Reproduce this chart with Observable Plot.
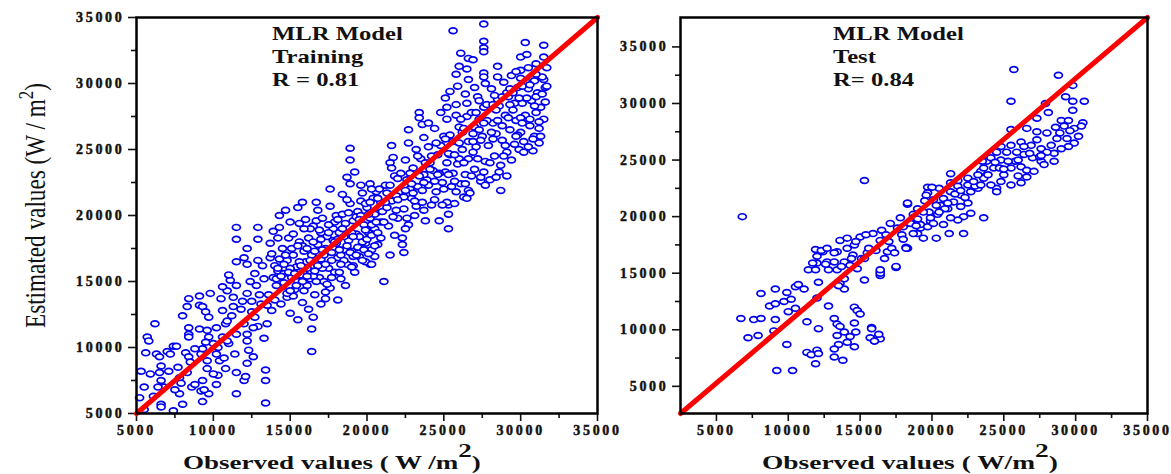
<!DOCTYPE html>
<html><head><meta charset="utf-8">
<script src="https://cdn.jsdelivr.net/npm/d3@7"></script>
<script src="https://cdn.jsdelivr.net/npm/@observablehq/plot@0.6"></script>
<style>
body{margin:0;background:#fff;}
#wrap{position:relative;width:1171px;height:474px;overflow:hidden;background:#fff;}
#wrap svg{position:absolute;top:0;overflow:hidden;}
#wrap svg.leftpanel{overflow:visible;}
#wrap g[aria-label="x-axis tick label"], #wrap g[aria-label="y-axis tick label"]{letter-spacing:2.7px;stroke:#111;stroke-width:0.45px;}
</style></head><body><div id="wrap"></div>
<script>
// ---- data (Observed, Estimated) in W/m2 ----
const trainingPoints = [
[5300,8200],[5500,7000],[5700,10800],[5800,10500],[5600,9600],[5500,5300],[5200,6200],[5900,8000],[6200,11800],[6300,9500],[6500,9300],[6600,8600],[6500,8100],[6600,7500],[6600,5700],[6600,5500],[6100,6300],[6800,7000],[7000,9700],[7400,10100],[7600,10100],[7200,9500],[7400,5200],[7700,8500],[7800,7700],[7800,6500],[8000,5700],[7500,6800],[7900,7300],[8200,9600],[8400,9300],[8500,8900],[8300,8100],[8600,7000],[8800,7200],[9200,6700],[9300,5900],[9300,7500],[9200,9500],[9300,9900],[9600,9000],[9600,8400],[8400,11500],[8400,11000],[8400,10800],[8000,12400],[8300,13100],[8400,13700],[9100,13900],[9100,13200],[9300,13100],[9500,12700],[9800,14100],[9700,12300],[9100,11400],[9600,11300],[9700,10800],[10200,11500],[10300,10000],[10200,9500],[10400,9000],[10600,10800],[10800,11800],[10900,12000],[10500,13700],[10600,12800],[10900,14300],[11100,15100],[11000,15500],[10600,14600],[11500,14700],[11500,16500],[11500,18200],[11500,19100],[12200,17500],[12200,16300],[12000,16800],[12900,19100],[12900,18200],[12900,16600],[11500,11000],[11300,13100],[11200,12400],[11300,13800],[12200,14100],[12000,11800],[12200,11000],[12200,10500],[12300,9800],[12200,8800],[12000,7500],[11500,8100],[11500,6500],[12100,7800],[12700,12300],[12900,11600],[13300,10700],[13400,8300],[13400,7500],[13400,5800],[12600,9300],[10800,8400],[10300,7900],[10200,7200],[9700,6500],[9400,6800],[10000,8000],[10700,9200],[11000,10300],[11400,9500],[11800,12900],[12500,13500],[12800,14700],[13100,13300],[13300,15200],[13600,14000],[13800,12800],[13500,11800],[12700,15600],[12400,15000],[13200,16200],[13700,16800],[13900,15300],[14000,13600],
[13800,17100],[14000,16200],[13700,17900],[14300,20000],[14700,20400],[14300,19100],[15600,19400],[16700,21000],[16800,20400],[16700,19600],[18400,21600],[18900,22400],[19600,22300],[20200,22400],[20600,21800],[14500,14600],[14800,13800],[15000,12600],[15500,12100],[16400,11400],[16400,9700],[16500,12300],[17300,13700],[18100,13600],[18600,14700],[19100,16200],[20200,16300],[19900,17900],[18000,20000],[17000,18700],[14200,15800],[14500,17500],[14800,16600],[14900,18300],[15100,15300],[15200,17000],[15300,14400],[15400,16100],[15600,18000],[15700,15500],[15800,13400],[15900,17300],[16000,16500],[16100,14700],[16200,18300],[16300,15800],[16400,17000],[16500,19200],[16600,14000],[16700,16400],[16800,17800],[16900,15300],[17000,16700],[17100,19800],[17200,15000],[17300,17500],[17400,18400],[17500,16000],[17600,14500],[17700,17200],[17800,19000],[17900,15700],[18000,17900],[18100,16800],[18200,18700],[18300,15200],[18400,20100],[18500,17400],[18600,19400],[18700,16300],[18800,18100],[18900,20900],[19000,17300],[19100,19600],[19200,15700],[19300,18600],[19400,20300],[19500,16900],[19600,21100],[19700,18000],[19800,19300],[19900,16500],[20000,20600],[20100,18700],[20200,19800],[20300,17400],[20400,21300],[20500,19000],[20600,20200],[20700,17800],[20800,22000],[20900,19500],[14100,14700],[14600,15600],[15000,19500],[15500,20600],[16000,19700],[14400,13300],[15200,13900],[16200,12900],[17000,13300],[13900,18800],[14200,18300],[15800,21000],[17600,20700],[18700,22900],[19200,23300],[18900,25100],[18900,24200],[17600,22000],[16100,16000],[16900,17100],[17800,18100],[15500,15000],[14800,14100],[16300,15200],[17100,16000],[18300,17000],[19500,18400],[20300,19300],
[14100,15200],[14300,16700],[14600,14900],[14700,17000],[15000,16000],[15200,18600],[15400,14700],[15600,16500],[15800,17700],[15900,14300],[16100,17500],[16300,19000],[16500,15400],[16600,17300],[16800,16200],[17000,18200],[17200,17000],[17300,14200],[17500,18700],[17700,16600],[17900,19500],[18100,18200],[18200,15700],[18400,19000],[18500,16600],[18700,17700],[18800,20200],[19000,18700],[19100,16900],[19300,19900],[19400,17600],[19600,20000],[19700,16600],[19900,20900],[20000,18200],[20200,21000],[20300,18500],[20500,20100],[20700,18700],[20900,21000],[12500,12700],[13000,14000],[13500,13200],[11900,13500],[12600,11500],[10900,10500],[10000,10300],[9500,10400],[8800,9900],[7100,8200],[6400,7000],
[14200,16000],[14400,15400],[14600,16300],[14900,15700],[15100,17500],[15300,15600],[15500,17700],[15700,16200],[15900,19000],[16100,15400],[16300,16600],[16500,18000],[16700,15000],[16900,18900],[17100,17400],[17300,16300],[17500,19300],[17700,15300],[17900,18000],[18100,19700],[18300,16300],[18500,18400],[18700,21200],[18900,17200],[19100,18400],[19300,17000],[19500,19700],[19700,21700],[19900,18900],[20100,20100],[20300,22000],[20500,17700],[20700,21300],[20900,18300],[15000,14300],[15800,15000],[16600,15800],[17400,14800],[18200,17400],[19000,16100],[19800,17400],[20600,19500],
[27600,34500],[25600,34000],[27600,33200],[27600,32700],[27600,32400],[30300,33100],[31500,32900],[26100,32300],[26600,31900],[26900,31800],[30000,32000],[30400,32200],[31500,32000],[28500,31300],[26000,31300],[26500,31100],[27600,30800],[27600,30500],[28500,30500],[30000,31000],[30500,31200],[31500,30300],[25800,30700],[26600,30300],[25900,29800],[27000,29700],[27700,30000],[26400,29200],[27200,29000],[28500,28800],[29100,29300],[25200,28200],[25800,28400],[26500,28500],[27600,28200],[25200,27300],[25800,27600],[23400,27800],[23400,27400],[23600,26900],[24000,27000],[22700,26500],[23700,25900],[21600,25300],[22700,25500],[21700,24400],[21500,24000],[29900,25000],[31200,25500],[30900,26000],[28700,21900],[26300,21400],[25300,19000],[25300,20100],[25300,20800],[26600,21900],[27400,22600],[22400,17200],[21100,15000],[21500,17000],[20300,16300],[20500,16900],[20100,17100],
[21000,20300],[21200,22300],[21400,19200],[21600,21100],[21800,23000],[22000,19800],[22100,21800],[22300,18300],[22400,20500],[22600,22700],[22700,19300],[22900,21300],[23000,23600],[23100,20000],[23300,22200],[23500,24300],[23600,21000],[23800,19600],[23900,22700],[24000,25200],[24200,20800],[24300,23400],[24500,21800],[24600,24600],[24700,19600],[24900,22500],[25000,26000],[25100,23300],[25200,21000],[25400,24600],[25500,22200],[25600,25600],[25700,20900],[25900,23900],[26000,26700],[26100,22400],[26200,25000],[26400,23100],[26500,27500],[26600,24300],[26700,21700],[26900,26200],[27000,23500],[27100,25200],[27300,27300],[27400,22900],[27500,26000],[27700,24100],[27800,28400],[27900,25300],[28000,22700],[28200,27000],[28300,24500],[28400,26200],[28600,28300],[28700,23800],[28800,25700],[29000,27600],[29100,24800],[29200,29000],[29300,26500],[29500,28000],[29600,25400],[29700,27200],[29800,29700],[30000,26300],[30100,28500],[30200,24800],[30300,27600],[30500,29600],[30600,26800],[30700,28700],[30800,25800],[30900,30200],[31000,27800],[31100,29300],[31200,26600],[31300,28200],[31400,30500],[31500,27300],[31600,29700],[31700,31200],[29400,30600],[28900,30100],[29700,30900],[30400,30100],[31000,31500],[28100,29600],[27300,28700],[26800,27800],[26000,25500],[25300,24700],[24700,23200],[23700,23100],[22800,22000],[22000,22800],[21300,21700],[24100,24000],[21800,18500],[22500,24200],[23200,25000],[24400,26600],[24800,27800],[25100,28900],[25400,29400],[22300,17800],
[21100,19500],[21300,20600],[21500,22300],[21700,19900],[21900,21500],[22200,23200],[22400,21400],[22600,19800],[22800,23200],[23000,21700],[23200,20700],[23400,23000],[23600,21900],[23800,24000],[24000,22300],[24200,24500],[24400,21200],[24600,23100],[24800,25300],[25000,22000],[25200,24000],[25400,26100],[25600,23200],[25800,21800],[26000,24300],[26200,26300],[26400,22400],[26600,25600],[26800,23000],[27000,26700],[27200,24300],[27400,25700],[27600,23300],[27800,27200],[28000,24000],[28200,25800],[28400,28000],[28600,23300],[28800,26800],[29000,25300],[29200,27400],[29400,24200],[29600,28500],[29800,26100],[30000,27400],[30200,25600],[30400,28900],[30600,27300],[30800,24900],[31000,29000],[31200,27100],[31400,29200],[31600,28600],[30100,29800],[29300,29600],[28300,29100],[27100,27800],[26300,26600],
[21200,21000],[21600,23600],[22000,21200],[22500,19000],[22900,22400],[23300,24500],[23700,20400],[24100,23500],[24500,25500],[24900,20800],[25300,23100],[25700,24600],[26100,27300],[26500,21300],[26900,24800],[27300,26500],[27700,22300],[28100,26300],[28500,27200],[28900,24500],[29300,28400],[29700,26000],[30100,27000],[30500,25200],[30900,28300],[31300,26000],[31700,29800],[29900,28900],[29500,29300],[28800,29000],[28200,28400],[27600,27000],[26900,25600],[26300,24000],[25700,22600],[25100,25800],[24400,22600],[23700,22500],[23100,21100],[22500,21900],[21900,20400],[29100,23000],[28400,22900],[30600,29900],[31000,30700],[30000,30400]
];
const testPoints = [
[6800,20000],[15300,23200],[18300,21100],[19700,22600],[19700,22100],[6700,11000],[7200,9300],[7900,9500],[7600,10900],[8100,11000],[8100,13200],[9100,13600],[9100,10900],[9000,9900],[9200,6400],[10300,6400],[9900,8700],[8700,12100],[9100,12300],[9900,13300],[9700,12500],[10200,12700],[10500,13800],[10700,14000],[11100,13600],[10000,11600],[10500,11900],[11300,10700],[11300,8000],[11600,7800],[12000,8200],[12100,7900],[11900,7000],[12100,10100],[12000,12800],[12100,14200],[12800,12100],
[13200,11000],[13400,10500],[13600,10300],[13400,9500],[13900,9800],[14600,12000],[14800,11700],[15000,11400],[14600,10600],[14700,9800],[14300,9400],[14600,8500],[14100,8900],[13500,8700],[13200,8300],[13200,7600],[13800,7300],
[15800,10200],[16200,9300],[16000,9000],[16400,9200],[15300,14400],[16400,15100],[16400,14800],[17500,15500],[13900,13600],[13600,14100],[13500,13900],[13900,14500],
[11400,15300],[11900,15300],[12000,15900],[11900,17100],[12400,16900],[12700,16000],[13200,16000],[13400,16900],[13600,17900],[14100,17200],[14600,17500],[15000,18200],[14500,16600],[13900,16000],[14300,15700],[14800,15400],[15100,16300],[15500,16800],[15600,17200],[15900,18500],[16400,17900],[16500,18800],[16900,16900],[16700,16300],[17200,17200],[17400,16800],[17100,19400],[17600,19000],[18000,19100],[17800,19900],[18500,19600],[18700,20200],[19000,18500],[19200,19000],[19400,18100],[18300,17200],[19900,19600],[19800,20400],[13200,16800],[12800,15300],[13400,15300],[11700,15900],[14100,18100],[14700,17800],[15400,18400],[12000,16500],[12300,17000],[12700,17200],
[16400,15000],[16400,15300],[17500,15600],[18200,17300],[15700,9300],[16000,9000],[16300,9600],[15800,10100],
[25700,33000],[28800,32500],[29800,31600],[29300,30600],[29800,30200],[30600,30200],[29800,29400],[25500,30200],[27900,30000],[28100,29200],[29000,28500],[29500,28500],[30500,28300],[29200,28000],[29900,27800],[30400,28000],[25500,27700],[27300,28700],[26600,27800],[27300,26800],[28000,27400],[28700,26900],[29400,26900],[29900,26500],[29500,26200],[29000,26000],[28500,25600],
[24800,26200],[25200,25700],[24800,25000],[25800,24900],[25500,24300],[26200,24400],[26600,24100],[27100,24000],[27600,24900],[27800,24600],[27000,25200],[26400,25500],[25900,25700],[27600,26000],[28000,25700],[28500,24900],[26600,23500],[26200,23000],[25500,22800],[24800,23100],[24500,22500],[24100,22800],[23600,23400],[23400,24000],[23800,24900],[24300,24300],[25000,23700],[23200,22500],[22700,22200],[22000,21900],[22500,22800],[21800,22700],[21300,22200],[20800,21600],[20500,22500],[20100,21500],[20600,21000],[21100,20700],[21500,21300],[22000,20900],[22500,21200],[22700,20300],[22200,20000],[21800,19700],[21300,19900],[20800,19300],[20400,20200],[19900,19900],[19400,20400],[19000,20700],[18700,19900],[18500,19400],[18700,18500],[19200,19300],[19700,19100],[20100,19400],[21200,18500],[18200,17200],[23500,24900],[21300,23800],[20000,22600],[19600,21900],[18300,21200],[20300,18100],[22200,18500],[23600,19900],[24500,22200],[23200,23700],[22500,23400],[21800,23200],[21300,23000],[23600,24300],[24100,25200],[24500,25700],[25500,26300],[26200,26600],[26900,26300],[27300,27500],
[19500,21400],[20300,21000],[20900,20700],[21600,22000],[22300,21700],[23000,22700],[23900,23700],[24700,24300],[25300,24900],[26000,25000],[26800,25600],[27500,25300],[28300,26300],[28900,27400],[29600,27600],[30200,27100],[26400,26200],[24400,24800],[22900,23100],[21100,21200],[18900,19200],[17900,18400],[17000,17800],[16100,17000],[15300,16300],[14400,16300],[13700,15600],[12600,15800],[16800,18400],[18000,18000],[19000,19800],[20500,20400],[22000,22300],[23400,22800],[25000,24200],[26000,23600],[27600,25400],[28600,27900]
];
const trainingDiagonal = [[5000,5000],[35000,35000]];
const testDiagonal = [[2500,2600],[35000,37600]];
const majorTicks = [5000,10000,15000,20000,25000,30000,35000];
const minorTicks = [7500,12500,17500,22500,27500,32500];
const trainingDomainX = [5000,35000], trainingDomainY = [5000,35000];
const testDomainX = [2500,35000], testDomainY = [2600,37600];
const trainingLabels = ["MLR Model","Training","R = 0.81"];
const testLabels = ["MLR Model","Test","R= 0.84"];
const xTitle = ["Observed values ( W /m","2",")"];
const xTitleTest = ["Observed values ( W/m","2",")"];
const yTitle = ["Estimated values (W / m","2",")"];

const ellipse = {draw(c){const rx=4,ry=2.9,k=0.5523;
  c.moveTo(rx,0);c.bezierCurveTo(rx,ry*k,rx*k,ry,0,ry);c.bezierCurveTo(-rx*k,ry,-rx,ry*k,-rx,0);
  c.bezierCurveTo(-rx,-ry*k,-rx*k,-ry,0,-ry);c.bezierCurveTo(rx*k,-ry,rx,-ry*k,rx,0);c.closePath();}};

const tickFont = {fontSize:14,fontWeight:"bold",fontFamily:"Liberation Serif"};
function panel(o){
  return Plot.plot({
    width:o.width,height:474,marginLeft:o.ml,marginRight:o.mr,marginTop:17,marginBottom:61,
    x:{domain:o.dx},y:{domain:o.dy},
    style:{background:"transparent",color:"#111"},
    marks:[
      Plot.axisX(minorTicks,{tickSize:5,tickFormat:()=>"",label:null,strokeWidth:1.6}),
      Plot.axisX(majorTicks,{tickSize:8,tickPadding:4,tickFormat:d=>String(d),label:null,strokeWidth:1.6,...tickFont}),
      Plot.axisY(minorTicks,{tickSize:5,tickFormat:()=>"",label:null,strokeWidth:1.6}),
      Plot.axisY(majorTicks,{tickSize:8,tickPadding:4,tickFormat:d=>String(d),label:null,strokeWidth:1.6,...tickFont}),
      Plot.dot(o.data,{x:d=>d[0],y:d=>d[1],symbol:ellipse,r:3.5,stroke:"#0000f0",fill:"white",strokeWidth:1.7}),
      Plot.line(o.diag,{x:d=>d[0],y:d=>d[1],stroke:"#ff0000",strokeWidth:5}),
      Plot.frame({stroke:"#000",strokeWidth:2.5})
    ]
  });
}
const wrap = document.getElementById("wrap");
const left = panel({width:620,ml:136,mr:23,dx:trainingDomainX,dy:trainingDomainY,data:trainingPoints,diag:trainingDiagonal});
const right = panel({width:551,ml:60,mr:24,dx:testDomainX,dy:testDomainY,data:testPoints,diag:testDiagonal});
left.style.left="0px"; right.style.left="620px";
left.classList.add("leftpanel");
wrap.appendChild(left); wrap.appendChild(right);

const FF = "Liberation Serif";
function annot(svg,x,lines){
  lines.forEach((t,i)=>{
    d3.select(svg).append("text").attr("text-anchor","start").attr("transform",`translate(${x},${39.5+i*23.3}) scale(1.37,1)`)
      .attr("font-family",FF).attr("font-weight","bold").attr("font-size",18).attr("fill","#111").text(t);
  });
}
annot(left,272,trainingLabels);
annot(right,213,testLabels);

function xtitle(svg,x,parts,target){
  const t = d3.select(svg).append("text").attr("text-anchor","start").attr("font-family",FF).attr("font-weight","bold")
    .attr("font-size",19).attr("fill","#111");
  t.append("tspan").text(parts[0]);
  t.append("tspan").attr("dy",-12).text(parts[1]);
  t.append("tspan").attr("dy",12).text(parts[2]);
  const w = t.node().getComputedTextLength();
  t.attr("transform",`translate(${x},469) scale(${target/w},1)`);
}
xtitle(left,183,xTitle,298);
xtitle(right,142,xTitleTest,296);

(function(){
  const t = d3.select(left).append("text").attr("text-anchor","start").attr("font-family",FF).attr("font-size",21).attr("fill","#111");
  t.append("tspan").text(yTitle[0]);
  t.append("tspan").attr("dy",-9).attr("font-size",17).text(yTitle[1]);
  t.append("tspan").attr("dy",9).text(yTitle[2]);
  const w = t.node().getComputedTextLength();
  const fs = 21*246/w;
  t.attr("font-size",fs);
  t.attr("transform",`translate(45,328) scale(1.28,1) rotate(-90)`);
})();
</script></body></html>
